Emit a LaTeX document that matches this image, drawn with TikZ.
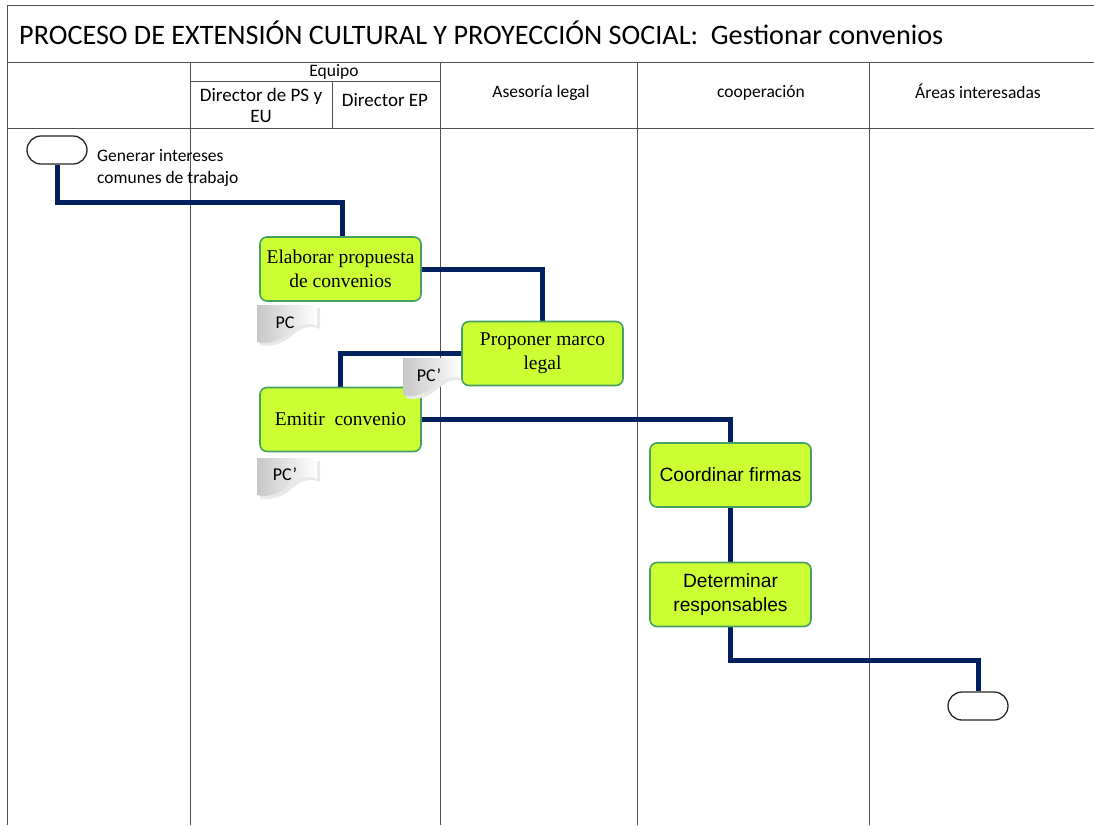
\documentclass[tikz,border=0pt]{standalone}
\usepackage{fontspec}
\setmainfont{Carlito}
\newfontfamily\tnr{Liberation Serif}
\newfontfamily\arl{Liberation Sans}
\usetikzlibrary{shapes.misc,backgrounds}
\definecolor{boxfill}{RGB}{204,255,51}
\definecolor{boxedge}{RGB}{70,160,100}
\definecolor{navy}{RGB}{0,32,96}
\definecolor{gridc}{RGB}{80,80,80}
\tikzset{
  grid/.style={draw=gridc, line width=0.9pt},
  hdr/.style={font=\fontsize{17.5}{21}\selectfont, align=center, inner sep=0pt},
  hdrd/.style={font=\fontsize{19}{21}\selectfont, align=center, inner sep=0pt},
  task/.style={draw=boxedge, line width=1.6pt, fill=boxfill, rounded corners=7pt,
     minimum width=161pt, minimum height=64pt, align=center, inner sep=2pt},
  tasktnr/.style={task, font=\tnr\fontsize{19.5}{24}\selectfont},
  taskarl/.style={task, font=\arl\fontsize{19.2}{24}\selectfont},
  term/.style={draw=black!85, line width=1.3pt, rounded rectangle, minimum width=60pt, minimum height=28pt, inner sep=0pt},
  flow/.style={draw=navy, line width=5pt},
  doctext/.style={font=\fontsize{18}{20}\selectfont, inner sep=0pt}
}
\newcommand{\docshape}[2]{% x y
  \begin{scope}[shift={(#1,#2)}]
    \fill[black!9] (3,3) -- (63,3) -- (63,24) .. controls (50,18) and (40,26) .. (32,33) .. controls (22,41) and (10,42) .. (3,40) -- cycle;
    \shade[left color=black!22, middle color=white, right color=white] (0,0) -- (60,0) -- (60,21) .. controls (47,15) and (37,23) .. (29,30) .. controls (19,38) and (7,39) .. (0,37) -- cycle;
  \end{scope}
}
\begin{document}
\begin{tikzpicture}[x=1pt,y=-1pt]
\useasboundingbox (0,0) rectangle (1094,825);
% title
\node[anchor=west, font=\fontsize{28.2}{30}\selectfont, inner sep=0pt] (title) at (19,33) {PROCESO DE EXTENSIÓN CULTURAL Y PROYECCIÓN SOCIAL:\ \ Gestionar convenios};
% headers
\node[hdr] (equipo) at (334,72) {Equipo};
\node[hdrd] (dps) at (261,105) {Director de PS y\\EU};
\node[hdrd] (dep) at (385,100) {Director EP};
\node[hdr] (ase) at (541,93) {Asesoría legal};
\node[hdr] (coo) at (761,93) {cooperación};
\node[hdr] (are) at (978,91) {Áreas interesadas};
% terminals
\node[term] (start) at (57,150) {};
\node[anchor=west, font=\fontsize{17.5}{22}\selectfont, align=left, inner sep=0pt] (starttxt) at (97,168) {Generar intereses\\comunes de trabajo};
\node[term] (end) at (978,706) {};
% documents
\docshape{257}{305}
\node[doctext] (pc1) at (285,323) {PC};
\docshape{257}{458}
\node[doctext] (pc3) at (285,474) {PC’};
% tasks
\node[tasktnr] (b1) at (340.5,269) {Elaborar propuesta\\de convenios};
\node[tasktnr] (b3) at (340.5,419.5) {Emitir\ \ convenio};
\docshape{403}{358}
\node[doctext] (pc2) at (429,375) {PC’};
\node[tasktnr] (b2) at (542.5,353.5) {Proponer marco\\legal};
\node[taskarl] (b4) at (730.5,475) {Coordinar firmas};
\node[taskarl] (b5) at (730.5,594.5) {Determinar\\responsables};
% frame and flow lines
\coordinate (c2) at (342,202);
\coordinate (c7) at (978,660);
\begin{scope}[on background layer]
\draw[grid] (1094,5) -- (7,5) -- (7,825);
\draw[grid] (7,62) -- (1094,62);
\draw[grid] (7,128) -- (1094,128);
\draw[grid] (190,81) -- (440,81);
\draw[grid] (332,81) -- (332,128);
\foreach \x in {190,440,637,869} \draw[grid] (\x,62) -- (\x,825);
\draw[flow] (start.south) |- (c2) -- (c2 |- b1.north);
\draw[flow] (b1.east) -| (b2.north);
\draw[flow] (b2.west) -| (b3.north);
\draw[flow] (b3.east) -| (b4.north);
\draw[flow] (b4.south) -- (b5.north);
\draw[flow] (b5.south) |- (c7) -- (end.north);
\end{scope}
\end{tikzpicture}
\end{document}
